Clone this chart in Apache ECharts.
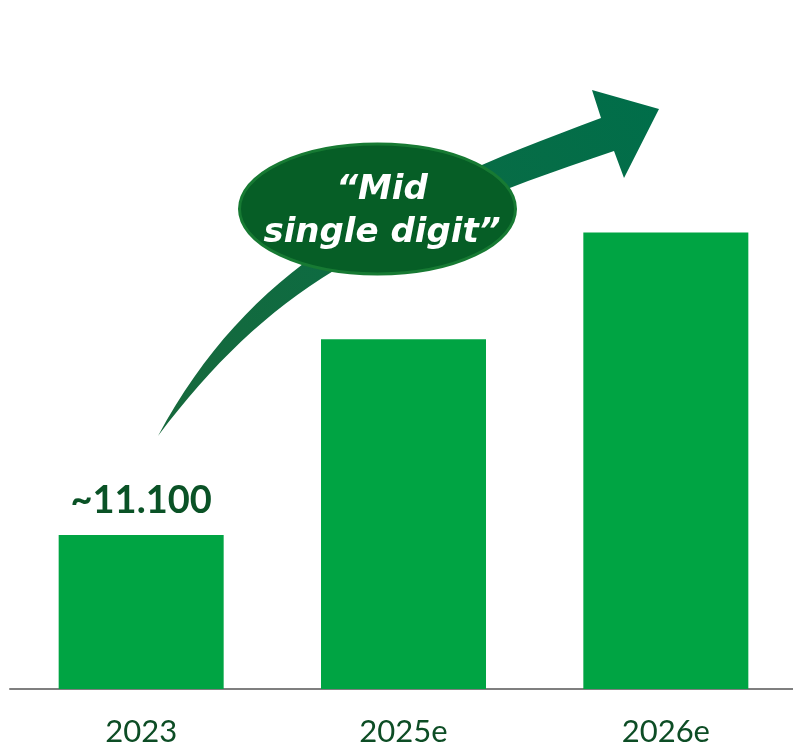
<!DOCTYPE html>
<html>
<head>
<meta charset="utf-8">
<script src="https://cdn.jsdelivr.net/npm/echarts@6/dist/echarts.min.js"></script>
<style>
    html, body { margin: 0; padding: 0; background: #fff; }
    #chart { width: 793px; height: 746px; }
</style>
</head>
<body>
<div id="chart"></div>
<script>
var years = ["2023", "2025e", "2026e"];
var values = [11100, 25200, 32900];
var firstLabel = "~11.100";
var bubbleText = "\u201cMid\nsingle digit\u201d";

var chart = echarts.init(document.getElementById("chart"));

// curved growth arrow behind the bubble
var arrowPath = "M158 436 C250 267 377 201 601 118 L592 90 L659 109 L624 178 L614 151 " +
    "C367 234 269 290 158 436 Z";
var ellipsePath = "M239.5 209 A138 65 0 1 0 515.5 209 A138 65 0 1 0 239.5 209 Z";

var barData = [];
for (var i = 0; i < values.length; i++) {
    var item = { value: values[i] };
    if (i == 0) {
        item.label = {
            show: true,
            position: "top",
            distance: 15,
            formatter: firstLabel,
            color: "#0a5226",
            fontFamily: "Lato",
            fontWeight: "bold",
            fontSize: 38
        };
    }
    barData.push(item);
}

function renderBubble(params, api) {
    return {
        type: "group",
        children: [
            {
                type: "path",
                shape: { pathData: arrowPath },
                style: {
                    fill: {
                        type: "linear", x: 0, y: 1, x2: 1, y2: 0,
                        colorStops: [
                            { offset: 0, color: "#17693c" },
                            { offset: 1, color: "#006e4a" }
                        ]
                    }
                }
            },
            {
                type: "path",
                shape: { pathData: ellipsePath },
                style: { fill: "#065e26", stroke: "#177a33", lineWidth: 3 }
            },
            {
                type: "text",
                x: 382,
                y: 212,
                style: {
                    text: bubbleText,
                    fill: "#ffffff",
                    font: "italic bold 34px 'DejaVu Sans'",
                    lineHeight: 43,
                    align: "center",
                    verticalAlign: "middle"
                }
            }
        ]
    };
}

var option = {
    animation: false,
    grid: {
        left: 10, width: 787, top: 134, bottom: 57,
        containLabel: false, outerBoundsMode: "none"
    },
    xAxis: {
        type: "category",
        data: years,
        axisLine: { lineStyle: { color: "#7f7f7f", width: 2 } },
        axisTick: { show: false },
        axisLabel: {
            color: "#0d4d25",
            fontFamily: "Lato",
            fontSize: 31,
            margin: 27
        }
    },
    yAxis: {
        type: "value",
        min: 0,
        max: 40000,
        show: false,
        splitLine: { show: false }
    },
    series: [
        {
            type: "bar",
            data: barData,
            barWidth: 165,
            itemStyle: { color: "#00a443" },
            label: { show: false }
        },
        {
            type: "custom",
            renderItem: renderBubble,
            data: [0],
            silent: true,
            clip: false,
            z: 10
        }
    ]
};
chart.setOption(option);
</script>
</body>
</html>
